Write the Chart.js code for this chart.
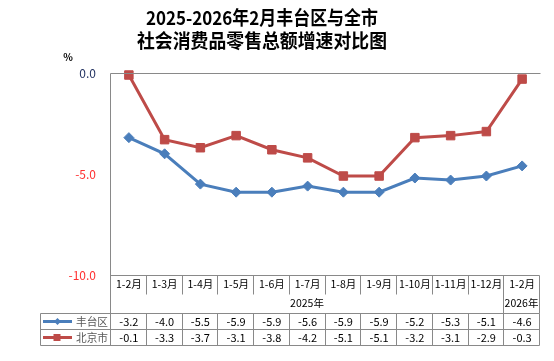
<!DOCTYPE html>
<html>
<head>
<meta charset="utf-8">
<script src="https://cdn.jsdelivr.net/npm/chart.js@4"></script>
<style>
  html, body { margin: 0; padding: 0; background: #fff; }
</style>
</head>
<body>
<canvas id="chart" width="554" height="361"></canvas>
<script>
// 数据
const categories = ['1-2月', '1-3月', '1-4月', '1-5月', '1-6月', '1-7月', '1-8月', '1-9月', '1-10月', '1-11月', '1-12月', '1-2月'];
const yearLabels = ['2025年', '2026年'];
const yearSpans = [11, 1];
const seriesNames = ['丰台区', '北京市'];
const fengtaiValues = [-3.2, -4.0, -5.5, -5.9, -5.9, -5.6, -5.9, -5.9, -5.2, -5.3, -5.1, -4.6];
const beijingValues = [-0.1, -3.3, -3.7, -3.1, -3.8, -4.2, -5.1, -5.1, -3.2, -3.1, -2.9, -0.3];
const yTickValues = [0, -5, -10];
const titleLines = ['2025-2026年2月丰台区与全市', '社会消费品零售总额增速对比图'];

const FONT = '"Noto Sans CJK SC", "Noto Sans", sans-serif';
const GRID = '#898989';
const BLUE = '#4a7ebb';
const RED = '#be4b48';

// 标题、坐标框和下方数据表
const tablePlugin = {
    id: 'dataTable',
    afterDraw(chart) {
        const ctx = chart.ctx;
        const area = chart.chartArea;
        const xs = chart.scales.x;
        const n = categories.length;
        const left = Math.round(area.left) - 0.5;
        const right = Math.round(area.right) - 0.5;
        const top = Math.round(area.top) + 0.5;
        const axisY = Math.round(area.bottom) + 0.5;
        const catBottom = axisY + 19;
        const rowTop = axisY + 38;
        const rowH = 16;
        const legendLeft = 40.5;

        const boundary = i => {
            if (i === 0) return left;
            if (i === n) return right;
            return Math.round((xs.getPixelForValue(i - 1) + xs.getPixelForValue(i)) / 2) - 0.5;
        };

        ctx.save();

        // 标题
        ctx.fillStyle = '#000';
        ctx.textAlign = 'center';
        ctx.textBaseline = 'middle';
        ctx.font = 'bold 19px ' + FONT;
        ctx.fillText(titleLines[0], 262, 18, 232);
        ctx.fillText(titleLines[1], 262, 41, 250);
        ctx.font = 'bold 10px ' + FONT;
        ctx.fillText('%', 68, 57);

        ctx.strokeStyle = GRID;
        ctx.lineWidth = 1;
        ctx.beginPath();
        // 上边框与左轴
        ctx.moveTo(left, top); ctx.lineTo(right + 1, top);
        ctx.moveTo(left, top); ctx.lineTo(left, rowTop + rowH * 2);
        // 横轴
        ctx.moveTo(left, axisY); ctx.lineTo(right, axisY);
        // 分类刻度线
        let acc = 0;
        const yearBreaks = yearSpans.map(s => (acc += s));
        for (let i = 1; i <= n; i++) {
            const bx = boundary(i);
            ctx.moveTo(bx, axisY);
            ctx.lineTo(bx, yearBreaks.includes(i) ? rowTop : catBottom);
        }
        // 数据行
        for (let r = 0; r <= 2; r++) {
            ctx.moveTo(legendLeft, rowTop + r * rowH);
            ctx.lineTo(right, rowTop + r * rowH);
        }
        ctx.moveTo(legendLeft, rowTop); ctx.lineTo(legendLeft, rowTop + rowH * 2);
        for (let i = 1; i <= n; i++) {
            const bx = boundary(i);
            ctx.moveTo(bx, rowTop); ctx.lineTo(bx, rowTop + rowH * 2);
        }
        ctx.stroke();

        // 分类标签
        ctx.fillStyle = '#000';
        ctx.font = '10.5px ' + FONT;
        categories.forEach((c, i) => {
            ctx.fillText(c, xs.getPixelForValue(i), axisY + 9);
        });

        // 年份
        ctx.font = '10.5px ' + FONT;
        let start = 0;
        yearLabels.forEach((y, k) => {
            const end = start + yearSpans[k];
            ctx.fillText(y, (boundary(start) + boundary(end)) / 2, axisY + 28);
            start = end;
        });

        // 数值
        const rows = [fengtaiValues, beijingValues];
        ctx.font = '11px ' + FONT;
        rows.forEach((vals, r) => {
            const cy = rowTop + r * rowH + rowH / 2;
            vals.forEach((v, i) => {
                ctx.fillText(v.toFixed(1), xs.getPixelForValue(i), cy);
            });
        });

        // 图例
        const colors = [BLUE, RED];
        seriesNames.forEach((name, r) => {
            const cy = rowTop + r * rowH + rowH / 2;
            ctx.strokeStyle = colors[r];
            ctx.fillStyle = colors[r];
            ctx.lineWidth = 3;
            ctx.beginPath();
            ctx.moveTo(43, cy); ctx.lineTo(72, cy);
            ctx.stroke();
            ctx.beginPath();
            if (r === 0) {
                ctx.moveTo(57.5, cy - 3.5); ctx.lineTo(61, cy); ctx.lineTo(57.5, cy + 3.5); ctx.lineTo(54, cy);
            } else {
                ctx.rect(53.5, cy - 3.5, 7, 7);
            }
            ctx.fill();
            ctx.fillStyle = '#595959';
            ctx.font = '11px ' + FONT;
            ctx.textAlign = 'left';
            ctx.fillText(name, 76, cy, 32);
            ctx.textAlign = 'center';
        });

        ctx.restore();
    }
};

new Chart(document.getElementById('chart'), {
    type: 'line',
    data: {
        labels: categories,
        datasets: [{
            label: seriesNames[0],
            data: fengtaiValues,
            borderColor: BLUE,
            backgroundColor: BLUE,
            borderWidth: 3,
            pointStyle: 'rectRot',
            pointRadius: 5,
            pointBorderWidth: 1,
            tension: 0,
            clip: false
        }, {
            label: seriesNames[1],
            data: beijingValues,
            borderColor: RED,
            backgroundColor: RED,
            borderWidth: 3,
            pointStyle: 'rect',
            pointRadius: 6,
            pointBorderWidth: 1,
            tension: 0,
            clip: false
        }]
    },
    options: {
        responsive: false,
        animation: false,
        layout: {
            padding: { left: 40, right: 14, top: 73, bottom: 86 }
        },
        plugins: {
            legend: { display: false },
            title: { display: false },
            tooltip: { enabled: false }
        },
        scales: {
            x: {
                display: false,
                offset: true
            },
            y: {
                min: -10,
                max: 0,
                afterFit: s => { s.width = 71; },
                afterBuildTicks: s => { s.ticks = yTickValues.map(v => ({ value: v })); },
                grid: { display: false },
                border: { display: false },
                ticks: {
                    padding: 7,
                    font: { family: FONT, size: 12 },
                    color: c => c.tick.value === 0 ? '#1f2f5f' : '#ff3030',
                    callback: v => v.toFixed(1)
                }
            }
        }
    },
    plugins: [tablePlugin]
});
</script>
</body>
</html>
